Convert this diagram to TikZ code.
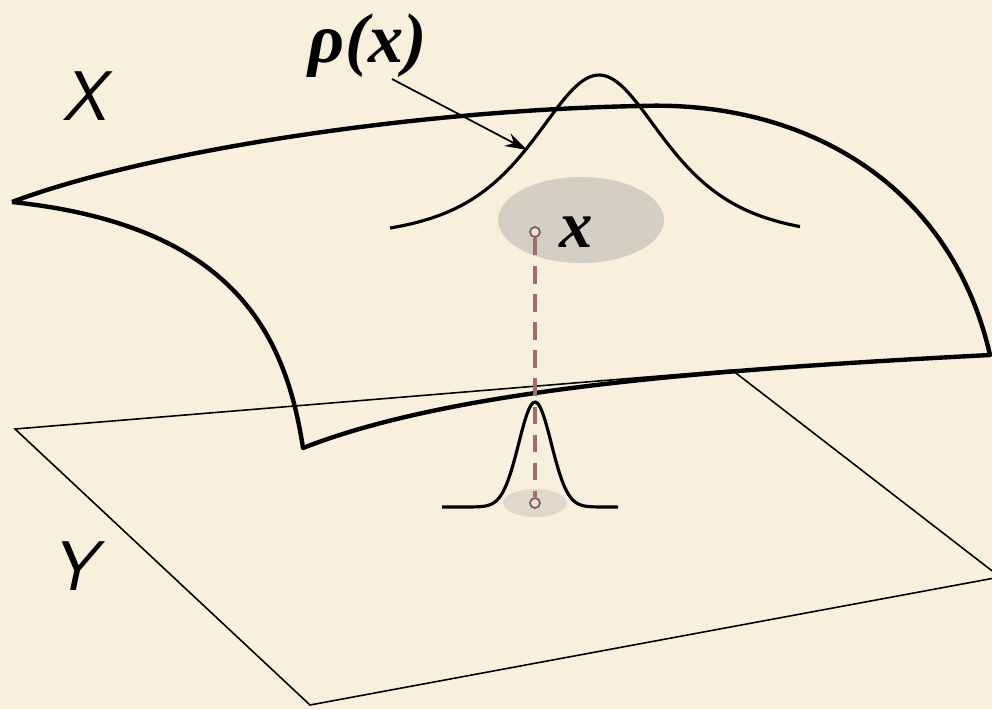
\documentclass[tikz,border=0pt]{standalone}
\usepackage{fontspec}
\newfontfamily\tms{Liberation Serif}
\usetikzlibrary{arrows.meta}

\definecolor{paper}{RGB}{248,240,221}
\definecolor{blob}{RGB}{212,207,196}
\definecolor{dashred}{RGB}{160,110,105}

\begin{document}
\begin{tikzpicture}[x=0.1mm, y=-0.1mm,
edge/.style={line width=1.25pt, line join=round},
plane/.style={line width=0.45pt},
curve/.style={line width=0.9pt},
pt/.style={circle, draw=dashred!80!black, line width=0.5pt, inner sep=0pt, minimum size=1mm, fill=paper!60!blob},
spacelbl/.style={font=\sffamily\itshape\fontsize{20}{24}\selectfont},
arr/.style={-{Stealth[length=2.2mm, width=1.4mm]}, line width=0.5pt}
]
\fill[paper] (0,0) rectangle (992,709);
\useasboundingbox (0,0) rectangle (992,709);
\clip (0,0) rectangle (992,709);

% base space Y
\draw[plane] (15,429) -- (732,370) -- (1000,577) -- (310,705) -- cycle;
\node[spacelbl] (ylbl) at (73,566) {Y};

% shaded neighbourhoods
\fill[blob] (581,220) ellipse [x radius=83, y radius=43];
\fill[blob!70!paper] (535,503) ellipse [x radius=32, y radius=14];

% manifold X
\draw[edge] (12,202) .. controls (150,150) and (420,110) .. (640,106)
  .. controls (800,100) and (950,180) .. (990,355)
  .. controls (700,370) and (450,390) .. (303,448)
  .. controls (285,330) and (230,225) .. (12,202);
\node[spacelbl] (xlbl) at (84,96) {X};

% densities
\draw[curve] plot[domain=390:800, samples=120] (\x, {238-163/cosh((\x-599)/60)});
\draw[curve] plot[domain=442:618, samples=80] (\x, {507-105*exp(-((\x-535)/23)^2)});

% the point and its image
\node[pt] (xup) at (535,232) {};
\node[pt] (xdown) at (535,503) {};
\draw[dashred, line width=0.9pt, dash pattern=on 5pt off 3pt] (xup) -- (xdown);
\node[font=\tms\bfseries\itshape\fontsize{19}{22}\selectfont] (xname) at (576,232) {x};

\node[font=\tms\bfseries\itshape\fontsize{20}{24}\selectfont] (rho) at (368,46) {ρ(x)};
\coordinate (rhotail) at (392,79);
\coordinate (rhotip) at (527,150);
\draw[arr] (rhotail) -- (rhotip);
\end{tikzpicture}
\end{document}
